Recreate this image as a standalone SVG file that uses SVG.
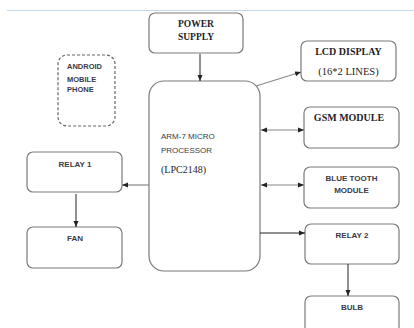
<svg xmlns="http://www.w3.org/2000/svg" width="414" height="328" viewBox="0 0 414 328">
<defs>
<style>
.box{fill:#fff;stroke:#7a7a7a;stroke-width:1.2}
.dash{fill:#fff;stroke:#666;stroke-width:1.2;stroke-dasharray:3 2}
.ln{stroke:#222;stroke-width:1;fill:none}
.ln2{stroke:#888;stroke-width:1.2;fill:none}
.serif{font-family:"Liberation Serif","Times New Roman",serif;fill:#1e1e28}
.sans{font-family:"Liberation Sans",Arial,sans-serif;fill:#3a3a48}
.b{font-weight:bold}
</style>
<marker id="ah" viewBox="0 0 6 6" refX="6" refY="3" markerWidth="6" markerHeight="6" orient="auto-start-reverse" markerUnits="userSpaceOnUse">
<path d="M0,0.5 L6,3 L0,5.5 Z" fill="#222"/>
</marker>
</defs>
<rect width="414" height="328" fill="#fff"/>
<line x1="7" y1="10.5" x2="414" y2="10.5" stroke="#c5d9ee" stroke-width="1.2"/>

<g id="power">
<rect class="box" x="149" y="13" width="94" height="40" rx="6"/>
<text class="serif b" x="196" y="27" font-size="9.5" text-anchor="middle">POWER</text>
<text class="serif b" x="196" y="39.5" font-size="9.5" text-anchor="middle">SUPPLY</text>
</g>

<g id="android">
<rect class="dash" x="58" y="55" width="57" height="71" rx="9"/>
<text class="sans b" x="67" y="68.5" font-size="7.5">ANDROID</text>
<text class="sans b" x="67" y="82" font-size="7.5">MOBILE</text>
<text class="sans b" x="67" y="92" font-size="7.5">PHONE</text>
</g>

<g id="processor">
<rect class="box" x="149" y="81" width="111" height="190" rx="15"/>
<text class="sans" x="161" y="138.5" font-size="8">ARM-7 MICRO</text>
<text class="sans" x="161" y="152.5" font-size="8">PROCESSOR</text>
<text class="serif" x="161" y="173" font-size="10">(LPC2148)</text>
</g>

<g id="lcd">
<rect class="box" x="301" y="41" width="95" height="40" rx="6"/>
<text class="serif b" x="348.5" y="55" font-size="10" text-anchor="middle">LCD DISPLAY</text>
<text class="serif" x="348.5" y="75" font-size="10.5" text-anchor="middle">(16*2 LINES)</text>
</g>

<g id="gsm">
<rect class="box" x="304" y="107" width="95" height="41" rx="6"/>
<text class="serif b" x="349" y="121" font-size="10" text-anchor="middle">GSM MODULE</text>
</g>

<g id="bluetooth">
<rect class="box" x="304" y="167" width="95" height="41" rx="6"/>
<text class="sans b" x="351.5" y="181" font-size="8" text-anchor="middle">BLUE TOOTH</text>
<text class="sans b" x="351.5" y="193" font-size="8" text-anchor="middle">MODULE</text>
</g>

<g id="relay1">
<rect class="box" x="27" y="152" width="95" height="40" rx="6"/>
<text class="sans b" x="75" y="167" font-size="8" text-anchor="middle">RELAY 1</text>
</g>

<g id="fan">
<rect class="box" x="27" y="227" width="95" height="41" rx="6"/>
<text class="sans b" x="75" y="241" font-size="8" text-anchor="middle">FAN</text>
</g>

<g id="relay2">
<rect class="box" x="305" y="224" width="94" height="40" rx="6"/>
<text class="sans b" x="352" y="238" font-size="8" text-anchor="middle">RELAY 2</text>
</g>

<g id="bulb">
<rect class="box" x="305" y="296" width="94" height="45" rx="6"/>
<text class="sans b" x="352" y="309.5" font-size="8" text-anchor="middle">BULB</text>
</g>

<g id="connectors">
<line class="ln" x1="200" y1="54" x2="200" y2="81" marker-end="url(#ah)"/>
<line class="ln2" x1="256" y1="86" x2="301" y2="72" marker-end="url(#ah)"/>
<line class="ln2" x1="261" y1="130" x2="304" y2="130" marker-start="url(#ah)" marker-end="url(#ah)"/>
<line class="ln2" x1="261" y1="185" x2="304" y2="185" marker-start="url(#ah)" marker-end="url(#ah)"/>
<line class="ln2" x1="149" y1="185" x2="122" y2="185" marker-end="url(#ah)"/>
<line class="ln" x1="76" y1="194" x2="76" y2="227" marker-end="url(#ah)"/>
<line class="ln" x1="260" y1="233" x2="305" y2="233" marker-end="url(#ah)"/>
<line class="ln" x1="348" y1="264" x2="348" y2="296" marker-end="url(#ah)"/>
</g>
</svg>
